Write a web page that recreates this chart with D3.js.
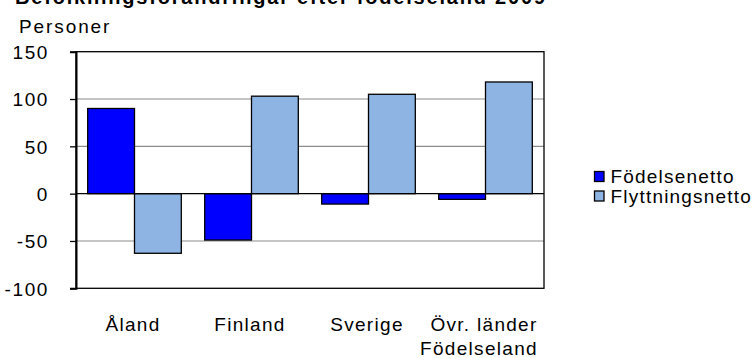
<!DOCTYPE html>
<html>
<head>
<meta charset="utf-8">
<script src="https://cdn.jsdelivr.net/npm/d3@7"></script>
<style>
  html, body { margin: 0; padding: 0; background: #fff; }
  svg { display: block; }
  text { font-family: "Liberation Sans", Arial, sans-serif; fill: #000; }
</style>
</head>
<body>
<svg id="chart" width="755" height="358"></svg>
<script>
// Population change by country of birth
const categories = ["Åland", "Finland", "Sverige", "Övr. länder"];
const seriesNames = ["Födelsenetto", "Flyttningsnetto"];
const fodelsenetto = [90, -49, -11, -6];
const flyttningsnetto = [-63, 103, 105, 118];
const yTicks = [-100, -50, 0, 50, 100, 150];
const seriesColors = ["#0000FF", "#8EB4E3"];

const svg = d3.select("#chart");
const plot = { left: 76, right: 544, top: 51.7, bottom: 288.3 };

const x = d3.scaleBand().domain(categories).range([plot.left, plot.right]).paddingInner(0).paddingOuter(0);
const y = d3.scaleLinear().domain([-100, 150]).range([plot.bottom, plot.top]);
// two bars per category, half a bar's width of gap
const barW = x.bandwidth() / 2.5;
const inner = d3.scaleBand().domain(seriesNames).range([barW * 0.25, barW * 2.25]);

const table = categories.map((c, i) => ({ cat: c, values: [fodelsenetto[i], flyttningsnetto[i]] }));

const FS = 19;

// title (partly above the top edge)
svg.append("text")
  .attr("x", 15).attr("y", 4)
  .attr("font-size", 20).attr("font-weight", "bold")
  .attr("textLength", 530).attr("lengthAdjust", "spacing")
  .text("Befolkningsförändringar  efter  födelseland  2009");

svg.append("text")
  .attr("x", 19).attr("y", 33)
  .attr("font-size", FS).attr("letter-spacing", 1.9)
  .text("Personer");

// gridlines
svg.append("g").selectAll("line")
  .data(yTicks.filter(v => v !== 0 && v !== -100 && v !== 150))
  .join("line")
  .attr("x1", plot.left).attr("x2", plot.right)
  .attr("y1", d => y(d)).attr("y2", d => y(d))
  .attr("stroke", "#8c8c8c").attr("stroke-width", 1.2);

// bars
const groups = svg.append("g").selectAll("g")
  .data(table).join("g")
  .attr("transform", d => `translate(${x(d.cat)},0)`);
groups.selectAll("rect")
  .data(d => d.values.map((v, k) => ({ v, k })))
  .join("rect")
  .attr("x", d => inner(seriesNames[d.k]))
  .attr("width", inner.bandwidth())
  .attr("y", d => y(Math.max(0, d.v)))
  .attr("height", d => Math.abs(y(d.v) - y(0)))
  .attr("fill", d => seriesColors[d.k])
  .attr("stroke", "#000").attr("stroke-width", 1.3);

// zero line
svg.append("line")
  .attr("x1", plot.left).attr("x2", plot.right)
  .attr("y1", y(0)).attr("y2", y(0))
  .attr("stroke", "#000").attr("stroke-width", 1.3);

// plot frame
svg.append("rect")
  .attr("x", plot.left).attr("y", plot.top)
  .attr("width", plot.right - plot.left).attr("height", plot.bottom - plot.top)
  .attr("fill", "none").attr("stroke", "#000").attr("stroke-width", 1.3);

// y axis
const yAxis = d3.axisLeft(y).tickValues(yTicks).tickSize(6).tickPadding(21).tickFormat(d => String(d));
const ya = svg.append("g").attr("transform", `translate(${plot.left},0)`).call(yAxis);
ya.select(".domain").attr("stroke", "#000").attr("stroke-width", 2);
ya.selectAll(".tick line").attr("stroke", "#000").attr("stroke-width", 1.3);
ya.selectAll(".tick text")
  .attr("font-family", "Liberation Sans, Arial, sans-serif")
  .attr("font-size", FS).attr("letter-spacing", 1.6).attr("fill", "#000")
  .attr("dy", "0.36em");

// category labels
svg.append("g").selectAll("text")
  .data(categories).join("text")
  .attr("x", d => x(d) + x.bandwidth() / 2 - 1.5)
  .attr("y", 331)
  .attr("text-anchor", "middle")
  .attr("font-size", FS).attr("letter-spacing", 1.3)
  .text(d => d);

svg.append("text")
  .attr("x", 479).attr("y", 355)
  .attr("text-anchor", "middle")
  .attr("font-size", FS).attr("letter-spacing", 1.3)
  .text("Födelseland");

// legend
const legend = svg.append("g").selectAll("g")
  .data(seriesNames).join("g")
  .attr("transform", (d, i) => `translate(594.5,${171.5 + i * 19.5})`);
legend.append("rect")
  .attr("width", 9.5).attr("height", 10)
  .attr("fill", (d, i) => seriesColors[i])
  .attr("stroke", "#000").attr("stroke-width", 1.3);
legend.append("text")
  .attr("x", 16).attr("y", 11.5)
  .attr("font-size", FS).attr("letter-spacing", 1.2)
  .text(d => d);
</script>
</body>
</html>
